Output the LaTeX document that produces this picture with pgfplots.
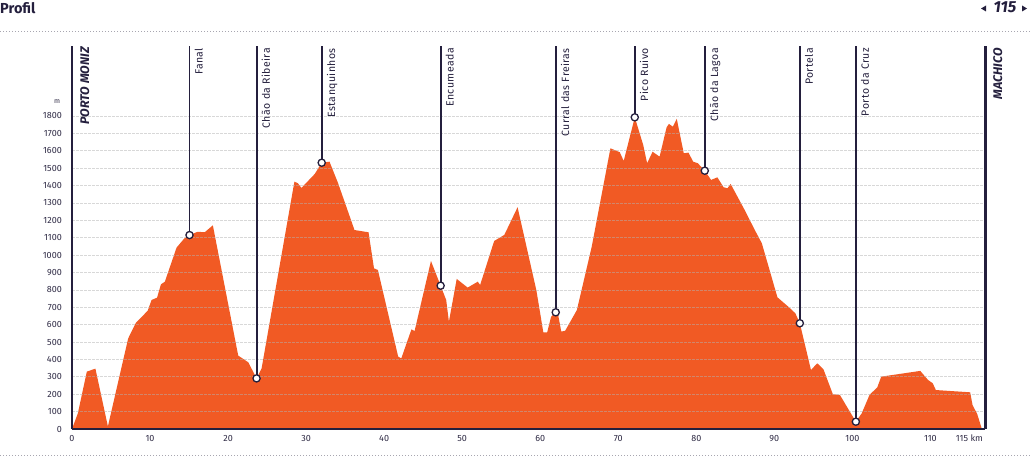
\documentclass[border=0pt]{standalone}
\usepackage{pgfplots}
\pgfplotsset{compat=1.18}
\usepackage{fontspec}
\setmainfont{Fira Sans}
\newfontfamily\lblfont[LetterSpace=4]{Fira Sans}
\definecolor{navy}{HTML}{241F3D}
\definecolor{prof}{HTML}{F15A24}
\definecolor{tickc}{HTML}{2E2A44}
\definecolor{dotc}{HTML}{A8A6B0}

\pgfplotstableread{
km m
0 0
0.75 90
1.9 330
3.0 347
4.6 15
7.2 521
8.2 611
9.7 680
10.2 742
10.9 755
11.4 832
11.9 847
13.4 1043
14.4 1096
15.06 1115
16.1 1134
17.0 1131
18.05 1171
21.3 422
22.6 383
23.65 291
24.3 349
28.5 1422
28.95 1413
29.4 1386
31.1 1466
32.0 1531
33.0 1537
34.1 1413
36.2 1144
38.0 1131
38.7 924
39.2 914
41.8 416
42.2 406
43.5 573
43.9 563
46.0 966
47.24 824
47.95 742
48.3 617
49.3 863
50.7 813
52.0 847
52.3 828
54.1 1081
55.4 1116
57.1 1275
59.5 799
60.4 556
60.9 556
61.4 646
61.99 671
62.3 656
62.7 560
63.2 565
64.7 684
66.6 1048
69.0 1614
70.2 1591
70.7 1541
72.12 1792
73.2 1633
73.7 1528
74.4 1594
75.3 1566
76.2 1735
76.5 1754
77.0 1738
77.5 1783
78.4 1585
79.0 1589
79.6 1537
80.2 1528
81.09 1485
81.9 1432
82.7 1447
83.5 1390
84.0 1384
84.4 1409
86.2 1259
87.5 1144
88.4 1068
90.4 757
91.8 703
92.7 665
93.27 608
94.7 339
95.5 378
96.3 343
97.5 200
98.4 196
100.45 42
101.2 90
102.2 196
103.2 240
103.7 301
108.7 334
109.7 282
110.3 263
110.7 224
115.1 211
115.4 138
116.0 86
116.6 0
}\profile

\pgfplotstableread{
km m
15.06 1115
23.65 291
32.0 1531
47.24 824
61.99 671
72.12 1792
81.09 1485
93.27 608
100.45 42
}\stops

\begin{document}
\begin{tikzpicture}[x=1pt,y=1pt]
\useasboundingbox (0,0) rectangle (1030,458);
% header
\node[anchor=north west, inner sep=0pt, font=\fontsize{14.5}{15}\selectfont\bfseries, text=navy] at (0,456) {Profil};
\node[anchor=north, inner sep=0pt, font=\fontsize{16}{17}\selectfont\bfseries\itshape, text=navy] at (1005,456.5) {115};
\fill[navy] (981,449.5) -- (986,452.5) -- (986,446.5) -- cycle;
\fill[navy] (1027,449.5) -- (1022,452.5) -- (1022,446.5) -- cycle;
\draw[dotc, line width=1pt, dash pattern=on 1.2pt off 1.8pt] (0,426) -- (1030,426);
\draw[dotc, line width=1pt, dash pattern=on 1.2pt off 1.8pt] (0,3) -- (1030,3);
\node[anchor=south, inner sep=0pt, font=\fontsize{7}{8}\selectfont, text=tickc] at (57,354) {m};

\begin{axis}[
  at={(72pt,29pt)}, anchor=south west, scale only axis,
  width=913pt, height=383pt,
  xmin=0, xmax=117, ymin=0, ymax=2202,
  axis line style={draw=none}, major tick length=0pt,
  xtick={0,10,20,30,40,50,60,70,80,90,100,110,115},
  xticklabels={0,10,20,30,40,50,60,70,80,90,100,110,115 km},
  ytick={0,100,...,1800},
  /pgf/number format/assume math mode=true,
  /pgf/number format/set thousands separator={},
  ticklabel style={font=\fontsize{9}{10}\selectfont, text=tickc, inner sep=0pt},
  xticklabel style={yshift=-6pt},
  yticklabel style={xshift=-10pt},
  clip=false,
]
\addplot[fill=prof, draw=none] table[x=km, y=m] {\profile} \closedcycle;
\pgfplotsinvokeforeach{100,200,...,1800}{
  \draw[gray!60, opacity=0.5, line width=0.7pt, dash pattern=on 2.5pt off 1.5pt] (axis cs:0,#1) -- (axis cs:117,#1);
}
% baseline and end lines
\addplot[navy, line width=2.6pt] coordinates {(0,0) (117,0)};
\addplot[navy, line width=2.2pt] coordinates {(0,0) (0,2202)};
\addplot[navy, line width=3pt] coordinates {(117,0) (117,2202)};
% stop lines
\addplot[navy, line width=1.9pt] coordinates {(15.06,1115) (15.06,2202)};
\addplot[navy, line width=1.9pt] coordinates {(23.65,291) (23.65,2202)};
\addplot[navy, line width=1.9pt] coordinates {(32.0,1531) (32.0,2202)};
\addplot[navy, line width=1.9pt] coordinates {(47.24,824) (47.24,2202)};
\addplot[navy, line width=1.9pt] coordinates {(61.99,671) (61.99,2202)};
\addplot[navy, line width=1.9pt] coordinates {(72.12,1792) (72.12,2202)};
\addplot[navy, line width=1.9pt] coordinates {(81.09,1485) (81.09,2202)};
\addplot[navy, line width=1.9pt] coordinates {(93.27,608) (93.27,2202)};
\addplot[navy, line width=1.9pt] coordinates {(100.45,42) (100.45,2202)};
\addplot[only marks, mark=*, mark size=3.6pt, mark options={fill=white, draw=navy, line width=1.3pt}] table[x=km, y=m] {\stops};
% labels
\tikzset{stoplbl/.style={rotate=90, anchor=north east, inner sep=0pt, font=\lblfont\fontsize{10.5}{11}\selectfont, text=navy}}
\node[stoplbl] at ([xshift=5pt,yshift=-2pt]axis cs:15.06,2202) {Fanal};
\node[stoplbl] at ([xshift=5pt,yshift=-2pt]axis cs:23.65,2202) {Chão da Ribeira};
\node[stoplbl] at ([xshift=5pt,yshift=-2pt]axis cs:32.0,2202) {Estanquinhos};
\node[stoplbl] at ([xshift=5pt,yshift=-2pt]axis cs:47.24,2202) {Encumeada};
\node[stoplbl] at ([xshift=5pt,yshift=-2pt]axis cs:61.99,2202) {Curral das Freiras};
\node[stoplbl] at ([xshift=5pt,yshift=-2pt]axis cs:72.12,2202) {Pico Ruivo};
\node[stoplbl] at ([xshift=5pt,yshift=-2pt]axis cs:81.09,2202) {Chão da Lagoa};
\node[stoplbl] at ([xshift=5pt,yshift=-2pt]axis cs:93.27,2202) {Portela};
\node[stoplbl] at ([xshift=5pt,yshift=-2pt]axis cs:100.45,2202) {Porto da Cruz};
\tikzset{endlbl/.style={rotate=90, anchor=north east, inner sep=0pt, font=\fontsize{12.5}{13}\selectfont\bfseries\itshape, text=navy}}
\node[endlbl] at ([xshift=8pt,yshift=-1pt]axis cs:0,2202) {PORTO MONIZ};
\node[endlbl] at ([xshift=8pt,yshift=-2pt]axis cs:117,2202) {MACHICO};
\end{axis}
\end{tikzpicture}
\end{document}
